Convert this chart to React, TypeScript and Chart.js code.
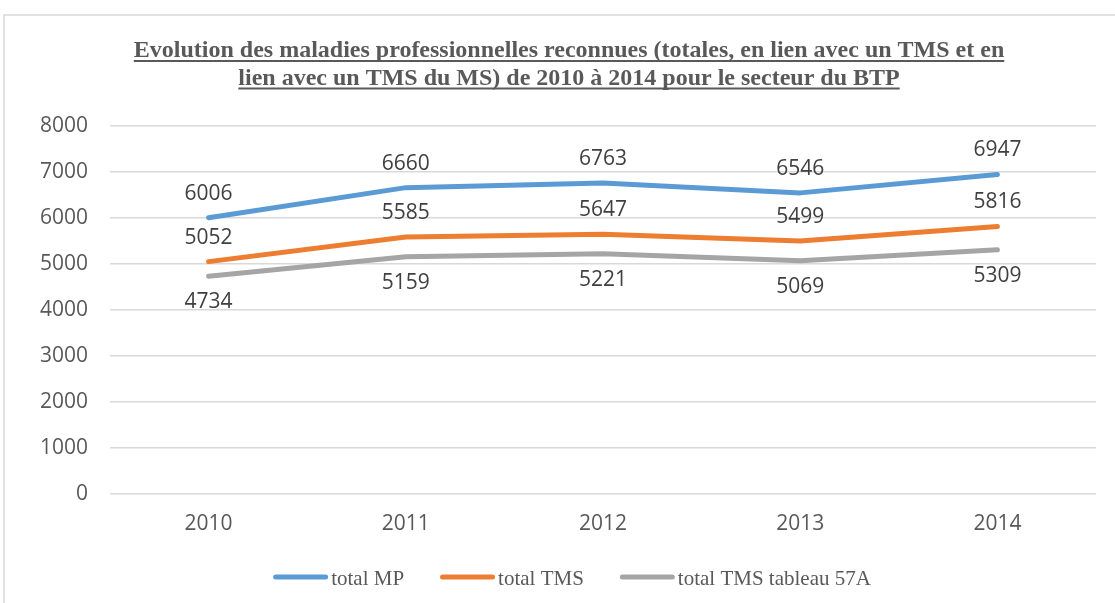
import React, { useEffect, useRef } from "react";
import { Chart, registerables } from "chart.js";

Chart.register(...registerables);

const years = ["2010", "2011", "2012", "2013", "2014"];
const totalMP = [6006, 6660, 6763, 6546, 6947];
const totalTMS = [5052, 5585, 5647, 5499, 5816];
const totalTMS57A = [4734, 5159, 5221, 5069, 5309];
const seriesNames = ["total MP", "total TMS", "total TMS tableau 57A"];
const seriesColors = ["#5B9BD5", "#ED7D31", "#A5A5A5"];
const labelSides = ["above", "above", "below"];
const titleLines = [
  "Evolution des maladies professionnelles reconnues (totales, en lien avec un TMS et en",
  "lien avec un TMS du MS) de 2010 à 2014 pour le secteur du BTP",
];

const W = 1115;
const H = 603;

const decorPlugin = {
  id: "decor",
  beforeDraw(chart: any) {
    const ctx = chart.ctx;
    ctx.save();
    ctx.fillStyle = "#ffffff";
    ctx.fillRect(0, 0, W, H);
    ctx.strokeStyle = "#d9d9d9";
    ctx.lineWidth = 1.5;
    ctx.beginPath();
    ctx.moveTo(4, H + 5);
    ctx.lineTo(4, 15);
    ctx.lineTo(W + 5, 15);
    ctx.stroke();
    ctx.restore();
  },
  afterDatasetsDraw(chart: any) {
    const ctx = chart.ctx;
    ctx.save();
    ctx.font = '21px "Open Sans"';
    ctx.fillStyle = "#404040";
    ctx.textAlign = "center";
    ctx.textBaseline = "middle";
    chart.data.datasets.forEach((ds: any, i: number) => {
      const meta = chart.getDatasetMeta(i);
      meta.data.forEach((pt: any, j: number) => {
        const dy = labelSides[i] === "above" ? -24 : 26;
        ctx.fillText(String(ds.data[j]), pt.x, pt.y + dy);
      });
    });
    ctx.restore();
  },
  afterDraw(chart: any) {
    const ctx = chart.ctx;
    ctx.save();
    // Title
    ctx.font = 'bold 24px "Liberation Serif"';
    ctx.fillStyle = "#595959";
    ctx.strokeStyle = "#595959";
    ctx.textAlign = "center";
    ctx.textBaseline = "alphabetic";
    const cx = 569;
    titleLines.forEach((line, k) => {
      const y = 57 + k * 27.5;
      ctx.fillText(line, cx, y);
      const w = ctx.measureText(line).width;
      ctx.lineWidth = 2;
      ctx.beginPath();
      ctx.moveTo(cx - w / 2, y + 4);
      ctx.lineTo(cx + w / 2, y + 4);
      ctx.stroke();
    });
    // Legend
    ctx.font = '21px "Liberation Serif"';
    ctx.textAlign = "left";
    ctx.textBaseline = "alphabetic";
    const ly = 577;
    const lineLen = 55;
    const gap = 3;
    const spacing = 36;
    let total = 0;
    const widths = seriesNames.map((n) => ctx.measureText(n).width);
    widths.forEach((w, k) => {
      total += lineLen + gap + w + (k < widths.length - 1 ? spacing : 0);
    });
    let x = 572 - total / 2;
    seriesNames.forEach((n, k) => {
      ctx.strokeStyle = seriesColors[k];
      ctx.lineWidth = 5;
      ctx.lineCap = "round";
      ctx.beginPath();
      ctx.moveTo(x + 2.5, ly);
      ctx.lineTo(x + lineLen - 2.5, ly);
      ctx.stroke();
      ctx.fillStyle = "#595959";
      ctx.fillText(n, x + lineLen + gap, 585);
      x += lineLen + gap + widths[k] + spacing;
    });
    ctx.restore();
  },
};

export default function App() {
  const canvasRef = useRef<HTMLCanvasElement | null>(null);

  useEffect(() => {
    const canvas = canvasRef.current;
    if (!canvas) return;
    const seriesData = [totalMP, totalTMS, totalTMS57A];
    const chart = new Chart(canvas, {
      type: "line",
      data: {
        labels: years,
        datasets: seriesData.map((d, i) => ({
          label: seriesNames[i],
          data: d,
          borderColor: seriesColors[i],
          backgroundColor: seriesColors[i],
          borderWidth: 5,
          borderCapStyle: "round",
          borderJoinStyle: "round",
          pointRadius: 0,
          tension: 0,
          fill: false,
        })),
      },
      options: {
        responsive: false,
        animation: false,
        layout: { padding: { top: 126, right: 19, bottom: 0, left: 0 } },
        plugins: {
          legend: { display: false },
          title: { display: false },
          tooltip: { enabled: false },
        },
        scales: {
          x: {
            offset: true,
            grid: { display: false, drawTicks: false },
            border: { display: false },
            ticks: {
              color: "#595959",
              font: { family: "Open Sans", size: 21 },
              padding: 17,
              maxRotation: 0,
            },
            afterFit: (s: any) => {
              s.height = 109;
            },
          },
          y: {
            min: 0,
            max: 8000,
            grid: { color: "#d9d9d9", lineWidth: 1.5, drawTicks: false },
            border: { display: false },
            ticks: {
              stepSize: 1000,
              color: "#595959",
              font: { family: "Open Sans", size: 21 },
              padding: 22,
              callback: (v: any) => String(v),
            },
            afterFit: (s: any) => {
              s.width = 110;
            },
          },
        },
      },
      plugins: [decorPlugin],
    });
    return () => chart.destroy();
  }, []);

  return (
    <div style={{ position: "fixed", left: 0, top: 0, width: W, height: H }}>
      <canvas ref={canvasRef} width={W} height={H} style={{ display: "block" }} />
    </div>
  );
}
